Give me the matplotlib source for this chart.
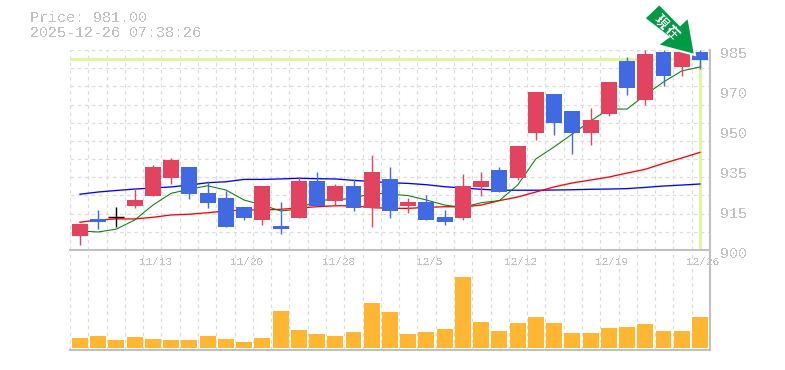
import matplotlib
matplotlib.use("Agg")
from matplotlib import pyplot as plt
from matplotlib.patches import Polygon
from matplotlib.transforms import Affine2D

W, H = 785, 370

dates = ["11/13", "11/20", "11/28", "12/5", "12/12", "12/19", "12/26"]
date_idx = [4, 9, 14, 19, 24, 29, 34]
price_ticks = [985, 970, 950, 935, 915, 900]
price_now = 981.0

opens = [906, 913.2, 914, 918.7, 923, 930.6, 935.3, 924.2, 922, 918.3, 912.75, 910.2, 913.6, 929.3, 920.8, 927.2, 917.85, 930.2,
         918.7, 920.4, 914, 913.6, 926.8, 934, 930.6, 949.7, 966.3, 959, 949.7, 957.8, 980.3, 963.75, 984.15, 977.8, 984.15]
closes = [911, 911.9, 914, 921.25, 935.3, 938.25, 923.8, 920, 909.8, 913.6, 927.2, 908.9, 929.3, 918.7, 927.2, 917.85, 933.15, 916.6,
          920.4, 912.75, 911.9, 927.2, 929.3, 924.65, 944.2, 967.15, 954, 949.7, 955.25, 971.4, 968.85, 983.3, 974, 984.15, 980.75]
highs = [911, 917, 918.1, 926.2, 936, 939, 935.3, 929.3, 925, 918.3, 927.2, 920.4, 931, 933.15, 928, 930.2, 940.4, 935.3,
         922.1, 923.4, 917, 932.3, 933.15, 935.3, 944.2, 967.15, 966.3, 959, 960.35, 971.4, 982, 985, 985, 984.15, 985]
lows = [902, 908.9, 909.9, 917.85, 923, 928, 921.7, 917.85, 909.8, 912.75, 910.6, 906.8, 913.6, 918.7, 918.7, 916.6, 909.8, 913.6,
        915.7, 912.75, 910.6, 912.75, 923, 924.65, 929.75, 946.75, 948.9, 940.8, 944.6, 957, 965.9, 961.6, 969.7, 974, 976.9]
ma_blue = [923.7, 924.65, 925.3, 925.9, 926.35, 926.8, 927.6, 928.6, 929, 930, 930, 930.2, 930.5, 930.3, 930.2, 929.6, 929.1, 928.6,
           928.3, 927.75, 926.9, 926.35, 925.8, 925.4, 925.4, 925.4, 925.5, 925.6, 925.8, 925.9, 926.1, 926.6, 927.2, 927.6, 928.05]
ma_red = [911.8, 912.75, 913.2, 913.2, 913.9, 914.9, 915.2, 915.85, 916.6, 917, 917, 917.3, 917.85, 918.4, 918.8, 918.8, 918, 917.7,
          917.7, 918.1, 918.4, 918.3, 919.1, 921, 922.5, 924.65, 926.8, 928.5, 929.75, 931, 932.7, 934.3, 936.8, 939.1, 941.5]
ma_green = [908.1, 907.65, 908.9, 912.75, 919.1, 924.1, 925.8, 927.3, 925.5, 921.25, 919.1, 916.6, 917.3, 921.25, 921.25, 922, 924.1, 923.8,
            923.1, 921.25, 919.1, 918.1, 920.1, 921, 927.6, 938.7, 943.8, 949.3, 954.8, 959.9, 959.9, 965.9, 971.4, 976.1, 977.8]
volume = [10, 12, 8, 11, 9, 8, 8, 12, 9, 6, 10, 37, 18, 14, 12, 16, 45, 36,
          14, 16, 19, 71, 26, 17, 25, 31, 25, 15, 15, 20, 21, 24, 17, 17, 31]

RED = "#e2435f"
BLUE = "#4169e1"
GREY = "#c0c0c0"
GRID = "#dcdcdc"
LIME = "#e0f5a0"
ORANGE = "#ffb733"
ARROW = "#009944"
MONO = "Liberation Mono"

plt.rcParams["text.antialiased"] = False

fig = plt.figure(figsize=(W / 100, H / 100), dpi=100)

def box(x0, y0, x1, y1):
    return [x0 / W, 1 - y1 / H, (x1 - x0) / W, (y1 - y0) / H]

ax = fig.add_axes(box(70, 50, 710, 250))
ax2 = fig.add_axes(box(70, 250, 710, 350))

n = len(opens)
# candles sit a touch left of the cell centres
x0, x1 = -0.548, 34.55
for a in (ax, ax2):
    a.set_xlim(x0, x1)
    a.patch.set_alpha(0)
    for s in a.spines.values():
        s.set_visible(False)
    a.tick_params(length=0, labelleft=False, labelbottom=False)
    a.set_xticks([x0 + (x1 - x0) * k / n for k in range(n + 1)])
    a.grid(axis="x", color=GRID, linestyle=(0, (3, 3)), linewidth=0.85)
    a.set_axisbelow(True)
    a.spines["right"].set_visible(True)
    a.spines["right"].set_color(GREY)
    a.spines["right"].set_linewidth(1.5)
    a.spines["bottom"].set_visible(True)
    a.spines["bottom"].set_color(GREY)
    a.spines["bottom"].set_linewidth(1.5)

ax.set_ylim(900, 985)
ax.set_yticks([900 + 85 * i / 11 for i in range(12)])
ax.grid(axis="y", color=GRID, linestyle=(0, (3, 3)), linewidth=0.85)

ax.axhline(price_now, color=LIME, linewidth=2.2, zorder=1)
ax.plot([n - 1, n - 1], [900.5, price_now], color=LIME, linewidth=2.2, zorder=1, solid_capstyle="butt")

xs = list(range(n))
ax.plot(xs, ma_blue, color="#0000ff", linewidth=0.95, zorder=2)
ax.plot(xs, ma_red, color="#ff0000", linewidth=0.95, zorder=2)
ax.plot(xs, ma_green, color="#007f00", linewidth=0.75, zorder=2)

for i in xs:
    o, c = opens[i], closes[i]
    if c > o:
        col = RED
    elif c < o:
        col = BLUE
    else:
        col = "black"
    ax.vlines(i, lows[i], highs[i], color=col, linewidth=1.0, zorder=3)
    if o == c:
        ax.hlines(o, i - 0.44, i + 0.44, color=col, linewidth=1.0, zorder=3)
    else:
        ax.bar(i, abs(c - o), bottom=min(o, c), width=0.875, color=col, zorder=3)

ax2.set_ylim(-2, 98)
ax2.bar(xs, volume, width=0.875, color=ORANGE, zorder=3)

for p, lab in zip([50, 90, 130, 170, 210, 250], price_ticks):
    fig.text(720 / W, 1 - (p + 4) / H, str(lab), color=GREY, fontsize=10.8, family=MONO, va="center")
for i, lab in zip(date_idx, dates):
    ax.annotate(lab, xy=(i, 900), xytext=(3, -12), textcoords="offset pixels", color=GREY, fontsize=8,
                family=MONO, ha="center", va="center", annotation_clip=False)

fig.text(30 / W, 1 - 18 / H, "Price: 981.00", color=GREY, fontsize=10.8, family=MONO, va="center")
fig.text(30 / W, 1 - 33 / H, "2025-12-26 07:38:26", color=GREY, fontsize=10.8, family=MONO, va="center")

# arrow is a marker in screen pixels, not data
to_fig = Affine2D().scale(1 / W, -1 / H).translate(0, 1) + fig.transFigure
shape = [(659.3, 4), (644.3, 18.3), (668.5, 37), (657.3, 45), (695, 55), (688.3, 17.3), (680, 25)]
fig.add_artist(Polygon(shape, closed=True, facecolor=ARROW, edgecolor="white", linewidth=1.5, transform=to_fig, zorder=10))
fig.text(660.7 / W, 1 - 21.7 / H, "現", color="white", fontsize=9.5, family="Noto Sans CJK JP", rotation=-45,
         ha="center", va="center", zorder=11, fontweight="bold")
fig.text(671.7 / W, 1 - 32.3 / H, "在", color="white", fontsize=9.5, family="Noto Sans CJK JP", rotation=-45,
         ha="center", va="center", zorder=11, fontweight="bold")

fig.savefig("out.png", dpi=100)
